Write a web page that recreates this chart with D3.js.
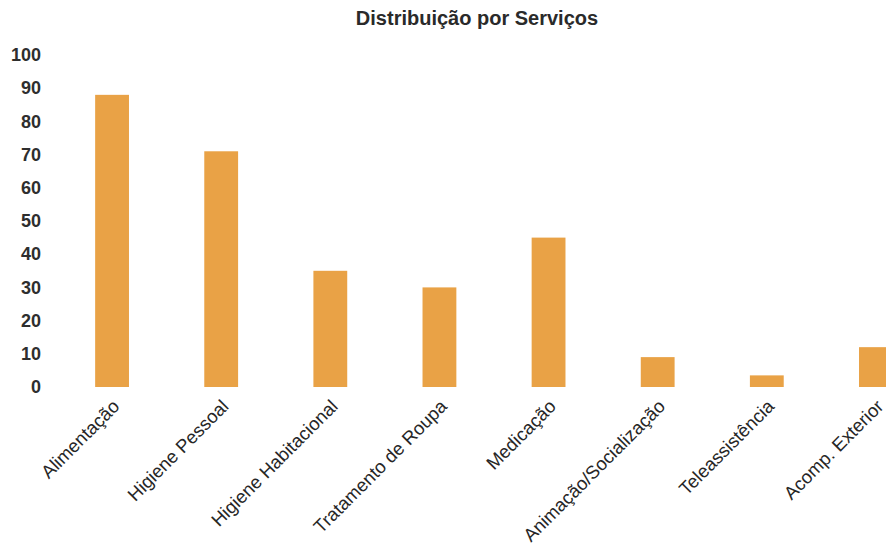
<!DOCTYPE html>
<html><head><meta charset="utf-8">
<script src="https://cdn.jsdelivr.net/npm/d3@7"></script>
<style>body{margin:0;background:#fff;overflow:hidden}svg{display:block}</style>
</head><body>
<script>
const categories = ["Alimentação","Higiene Pessoal","Higiene Habitacional","Tratamento de Roupa","Medicação","Animação/Socialização","Teleassistência","Acomp. Exterior"];
const values = [88, 71, 35, 30, 45, 9, 3.5, 12];
const yTicks = [0,10,20,30,40,50,60,70,80,90,100];
const title = "Distribuição por Serviços";

const W = 886, H = 549;
const svg = d3.select("body").append("svg").attr("width", W).attr("height", H);

const y = d3.scaleLinear().domain([0,100]).range([387, 55]);
const x = d3.scaleBand().domain(categories).range([57.5, 930.5]).paddingInner(0.69).paddingOuter(0.345);

svg.append("text").attr("x", 477).attr("y", 25).attr("text-anchor","middle")
  .attr("font-family","Liberation Sans, Arial, sans-serif").attr("font-weight","bold")
  .attr("font-size",20).attr("fill","#2a2a2a").text(title);

const yAxis = d3.axisLeft(y).tickValues(yTicks).tickSize(0).tickPadding(0);
const gy = svg.append("g").attr("transform","translate(41,0)").call(yAxis);
gy.select(".domain").remove();
gy.selectAll("text").attr("font-family","Liberation Sans, Arial, sans-serif")
  .attr("font-size",18).attr("font-weight","bold").attr("fill","#2e2e2e");

svg.append("g").selectAll("rect").data(values).join("rect")
  .attr("x",(d,i)=>x(categories[i])).attr("width",x.bandwidth())
  .attr("y",d=>y(d)).attr("height",d=>y(0)-y(d))
  .attr("fill","#E9A246");

const xAxis = d3.axisBottom(x).tickSize(0).tickPadding(0);
const gx = svg.append("g").attr("transform","translate(0,400)").call(xAxis);
gx.select(".domain").remove();
gx.selectAll("text").attr("font-family","Liberation Sans, Arial, sans-serif")
  .attr("font-size",18.5).attr("fill","#262626")
  .attr("text-anchor","end").attr("dy","0.35em")
  .attr("transform","translate(4,3) rotate(-45)");
</script>
</body></html>
